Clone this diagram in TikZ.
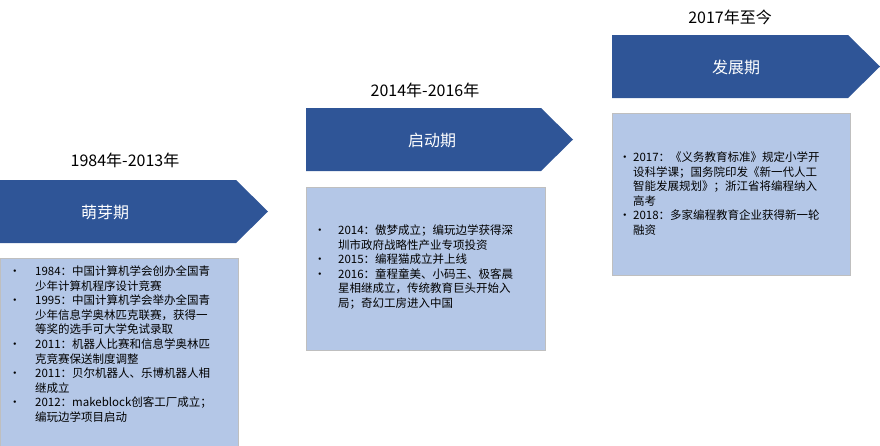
\documentclass[tikz,border=0pt]{standalone}
\usepackage{fontspec}
\setmainfont{Noto Sans CJK SC}
\definecolor{dblue}{HTML}{2F5597}
\definecolor{lblue}{HTML}{B4C7E7}
\tikzset{
  phase/.style={fill=dblue,draw=none},
  infobox/.style={fill=lblue,draw=black!25,line width=0.6pt},
  ptitle/.style={text=white,font=\fontsize{16}{18}\selectfont},
  plabel/.style={text=black,font=\fontsize{16}{18}\selectfont},
  btext/.style={anchor=north west,inner sep=0pt,font=\fontsize{11.5}{14.6}\selectfont}
}
\begin{document}
\begin{tikzpicture}[x=1pt,y=-1pt]
\useasboundingbox (0,0) rectangle (880,445);
% phases
\fill[phase] (0,180) -- (236,180) -- (268,211.5) -- (236,243) -- (0,243) -- cycle;
\fill[phase] (306,108) -- (541,108) -- (573,139.5) -- (541,171) -- (306,171) -- cycle;
\fill[phase] (612,35) -- (848,35) -- (880,66.5) -- (848,98) -- (612,98) -- cycle;
\node[ptitle] (t1) at (105,212) {萌芽期};
\node[ptitle] (t2) at (432,140) {启动期};
\node[ptitle] (t3) at (736,67) {发展期};
\node[plabel] (l1) at (125,160) {1984年-2013年};
\node[plabel] (l2) at (425,90) {2014年-2016年};
\node[plabel] (l3) at (730,17) {2017年至今};
% boxes
\draw[infobox] (0,258) rectangle (238,446);
\draw[infobox] (306,187) rectangle (545,350);
\draw[infobox] (612,113) rectangle (850,275);
\node[btext] (b1) at (9,265) {\begin{tabular}{@{}p{26pt}@{}l@{}}
•&1984：中国计算机学会创办全国青\\
 &少年计算机程序设计竞赛\\
•&1995：中国计算机学会举办全国青\\
 &少年信息学奥林匹克联赛，获得一\\
 &等奖的选手可大学免试录取\\
•&2011：机器人比赛和信息学奥林匹\\
 &克竞赛保送制度调整\\
•&2011：贝尔机器人、乐博机器人相\\
 &继成立\\
•&2012：makeblock创客工厂成立；\\
 &编玩边学项目启动
\end{tabular}};
\node[btext] (b2) at (314,224) {\begin{tabular}{@{}p{24pt}@{}l@{}}
•&2014：傲梦成立；编玩边学获得深\\
 &圳市政府战略性产业专项投资\\
•&2015：编程猫成立并上线\\
•&2016：童程童美、小码王、极客晨\\
 &星相继成立，传统教育巨头开始入\\
 &局；奇幻工房进入中国
\end{tabular}};
\node[btext] (b3) at (619,151) {\begin{tabular}{@{}p{14pt}@{}l@{}}
•&2017：《义务教育标准》规定小学开\\
 &设科学课；国务院印发《新一代人工\\
 &智能发展规划》；浙江省将编程纳入\\
 &高考\\
•&2018：多家编程教育企业获得新一轮\\
 &融资
\end{tabular}};
\end{tikzpicture}
\end{document}
